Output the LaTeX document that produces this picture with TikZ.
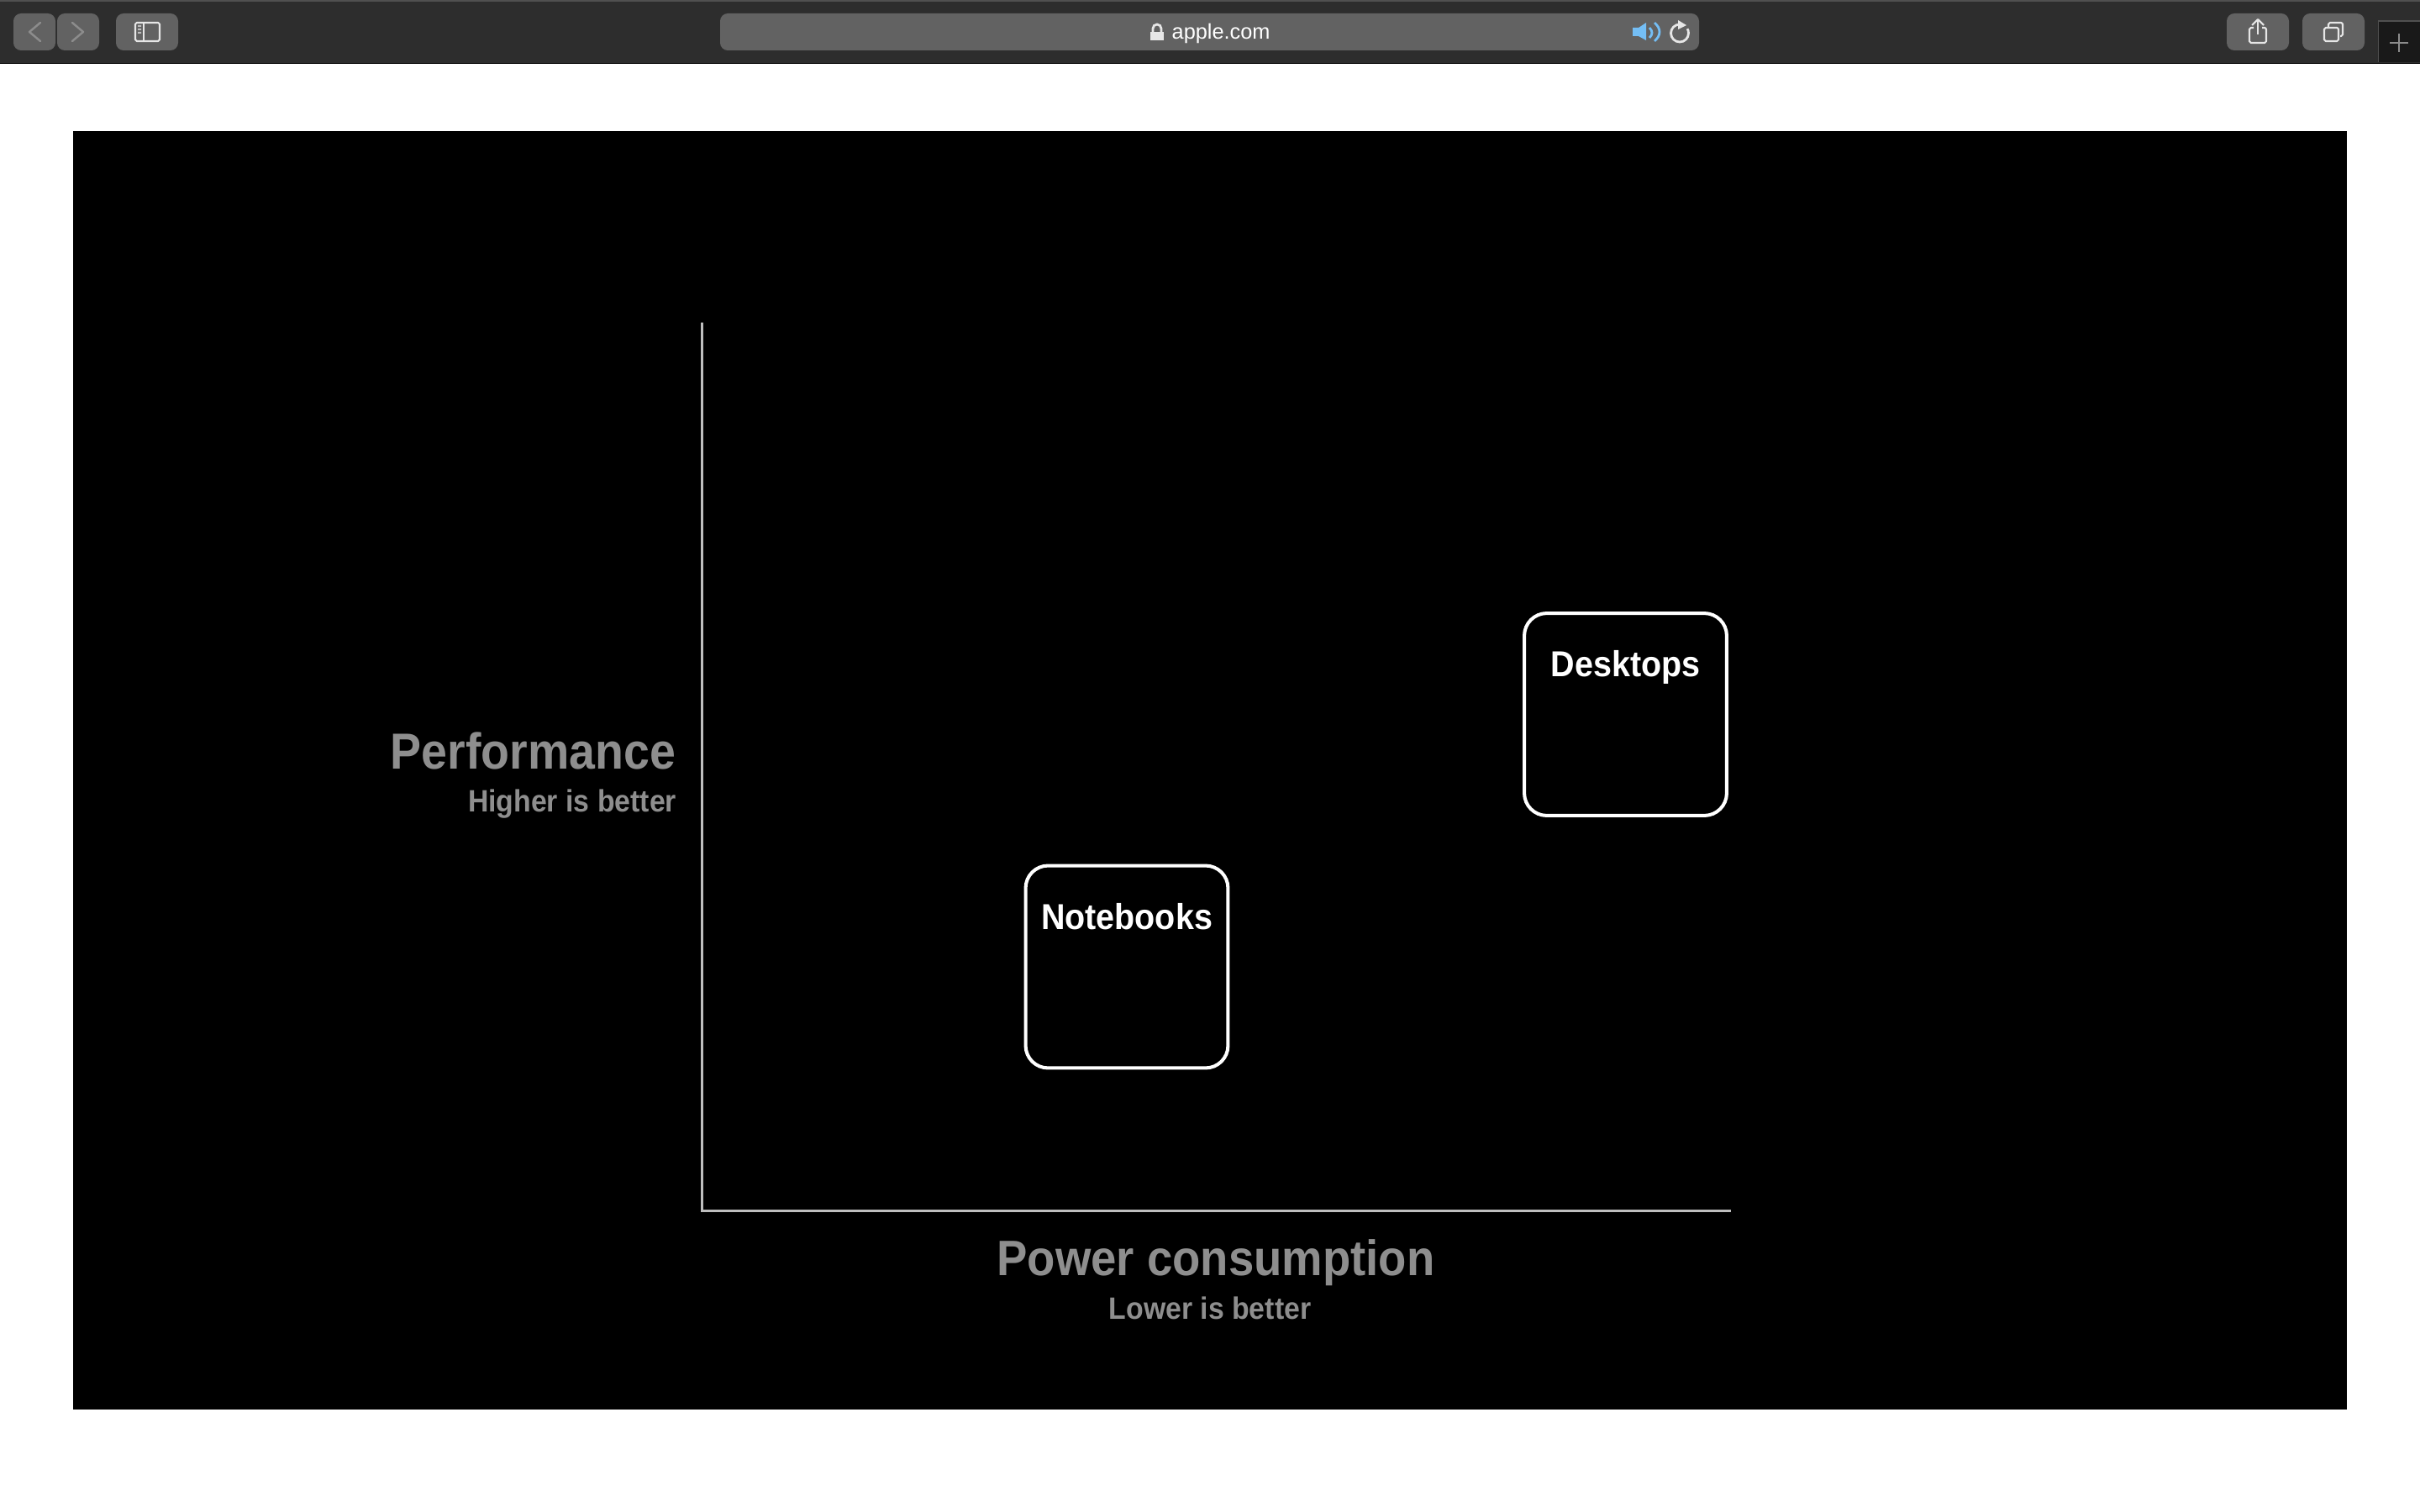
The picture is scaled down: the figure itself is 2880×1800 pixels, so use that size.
\documentclass[tikz,border=0pt]{standalone}
\usepackage{fontspec}
\setmainfont{Liberation Sans}
\newfontfamily\tightfont[FakeStretch=0.92]{Liberation Sans}
\definecolor{barbg}{HTML}{2D2D2D}
\definecolor{barline}{HTML}{505050}
\definecolor{btn}{HTML}{626262}
\definecolor{iconfg}{HTML}{E6E6E6}
\definecolor{chev}{HTML}{8C8C8C}
\definecolor{axisc}{HTML}{BEBEBE}
\definecolor{labelc}{HTML}{8E8E8E}
\definecolor{spk}{HTML}{74BEF5}
\tikzset{
  btnbox/.style={fill=btn,rounded corners=2.6pt},
  icon/.style={draw=iconfg,line width=0.6pt,line join=round},
  chevron/.style={draw=chev,line width=0.7pt,line cap=round,line join=round},
  axisline/.style={draw=axisc,line width=0.85pt},
  cardbox/.style={draw=white,line width=1.15pt,fill=black,rounded corners=7.6pt,
    minimum width=68.5pt,minimum height=68.5pt,inner sep=0pt},
  txt/.style={inner sep=0pt,outer sep=0pt,font=\tightfont\bfseries},
  bigtxt/.style={txt,text=labelc,font=\tightfont\bfseries\fontsize{16.85}{20}\selectfont},
  perftxt/.style={txt,text=labelc,font=\tightfont\bfseries\fontsize{17.15}{20}\selectfont},
  subtxt/.style={txt,text=labelc,font=\tightfont\bfseries\fontsize{10.45}{12}\selectfont},
  cardtxt/.style={txt,text=white,font=\tightfont\bfseries\fontsize{12.2}{14}\selectfont},
}
\begin{document}
\begin{tikzpicture}[x=0.01cm,y=-0.01cm]
\useasboundingbox (0,0) rectangle (2880,1800);
\fill[white] (0,0) rectangle (2880,1800);
% window bar
\fill[barbg] (0,0) rectangle (2880,75);
\fill[barline] (0,0) rectangle (2880,2);
\fill[black] (0,75) rectangle (2880,76);
% back / forward / sidebar
\fill[btnbox] (16,16) rectangle (66,60);
\fill[btnbox] (68,16) rectangle (118,60);
\fill[btnbox] (138,16) rectangle (212,60);
\draw[chevron] (48,27) -- (35,38) -- (48,49);
\draw[chevron] (86,27) -- (99,38) -- (86,49);
\draw[icon,rounded corners=0.5pt] (161,27) rectangle (190,49);
\draw[icon] (171,27) -- (171,49);
\fill[iconfg!70!btn] (164,30) rectangle (168,32) (164,34) rectangle (168,36) (164,38) rectangle (168,40);
% address bar
\fill[btnbox] (857,16) rectangle (2022,60);
\fill[iconfg] (1369,38) rectangle (1385,48);
\draw[iconfg,line width=0.8pt] (1372,38) -- (1372,34) arc[start angle=180,end angle=360,radius=5] -- (1382,38);
\node[inner sep=0pt,anchor=base west,text=white,font=\fontsize{7.2}{9}\selectfont] (url) at (1394,47) {apple.com};
% speaker
\fill[spk] (1943,33) -- (1950,33) -- (1959,27) -- (1959,48) -- (1950,43) -- (1943,43) -- cycle;
\draw[spk,line width=0.8pt] (1963,33) .. controls (1967,37) and (1967,41) .. (1963,45);
\draw[spk,line width=0.8pt] (1969,27) .. controls (1977,34) and (1977,42) .. (1969,49);
% reload
\draw[iconfg,line width=0.8pt] (1999,29) arc[start angle=-90,end angle=-390,radius=10.5];
\fill[iconfg] (1997,24) -- (2007,30) -- (1997,35) -- cycle;
% share
\fill[btnbox] (2650,16) rectangle (2724,60);
\draw[icon,rounded corners=0.5pt] (2682,33) -- (2677,33) -- (2677,51) -- (2697,51) -- (2697,33) -- (2692,33);
\draw[icon] (2687,24) -- (2687,41);
\draw[icon] (2680,30) -- (2687,23) -- (2694,30);
% tabs
\fill[btnbox] (2740,16) rectangle (2814,60);
\draw[icon,rounded corners=0.5pt] (2766,33) rectangle (2783,49);
\draw[icon,rounded corners=0.5pt] (2771,33) -- (2771,27) -- (2788,27) -- (2788,43) -- (2785,43);
% new tab
\fill[black!45!barbg] (2881,25) -- (2830.5,25) -- (2830.5,74) -- (2881,74);
\draw[draw=barline,line width=0.4pt] (2881,25) -- (2830.5,25) -- (2830.5,74);
\draw[draw=chev,line width=0.6pt] (2844,51) -- (2866,51) (2855,40) -- (2855,62);
% slide panel
\fill[black] (87,156) rectangle (2793,1678);
% axes
\coordinate (axtop) at (835,384);
\coordinate (axorigin) at (835,1441);
\coordinate (axright) at (2060,1441);
\draw[axisline] (axtop) -- (axorigin) -- (axright);
% cards
\node[cardbox] (notebooks) at (1341,1151) {};
\node[cardbox] (desktops) at (1934.5,850.5) {};
\node[cardtxt,anchor=base] (notebookslabel) at (1341,1106) {Notebooks};
\node[cardtxt,anchor=base] (desktopslabel) at (1934.5,805) {Desktops};
% axis labels
\node[perftxt,anchor=base east] (perf) at (804,915) {Performance};
\node[subtxt,anchor=base east] (perfsub) at (805,966) {Higher is better};
\node[bigtxt,anchor=base] (power) at (1447,1518) {Power consumption};
\node[subtxt,anchor=base] (powersub) at (1440,1570) {Lower is better};
\end{tikzpicture}
\end{document}
